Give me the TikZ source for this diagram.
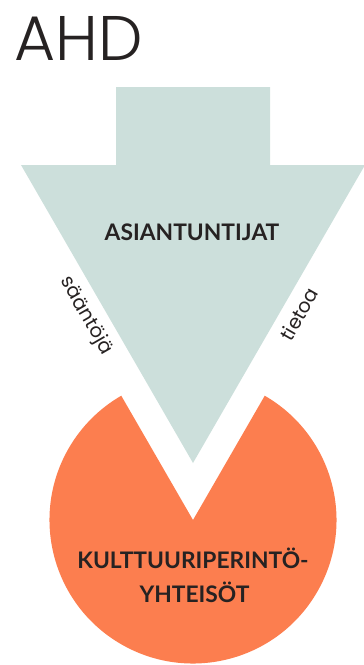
\documentclass[tikz,border=0pt]{standalone}
\usepackage{fontspec}
\IfFontExistsTF{Poppins Light}{\newfontfamily\thinfont{Poppins Light}}{\newfontfamily\thinfont{Poppins}}
\newfontfamily\sidefont{Poppins}
\newfontfamily\boldfont{Lato}[UprightFont=* Bold]
\definecolor{tealgray}{HTML}{CCDFDB}
\definecolor{coral}{HTML}{FC7E4F}
\definecolor{ink}{HTML}{262222}
\tikzset{
  biglabel/.style={font=\boldfont\fontsize{22.8}{34}\selectfont, text=ink, align=center, inner sep=0pt},
  sidelabel/.style={font=\sidefont\fontsize{19.5}{22}\selectfont, text=ink, inner sep=0pt},
}
\begin{document}
\begin{tikzpicture}[x=1pt,y=-1pt]
\useasboundingbox (0,0) rectangle (364,665);
% orange pie with wedge cut out
\fill[coral] (193,520) -- ++(300:143.5) arc[start angle=300, end angle=600, radius=143.5] -- cycle;
% arrow
\fill[tealgray] (116,87) -- (270,87) -- (270,165) -- (365,165) -- (193,463) -- (21,165) -- (116,165) -- cycle;
% texts
\node[anchor=base west, font=\thinfont\fontsize{63}{63}\selectfont, text=ink, inner sep=0pt] (ahd) at (14,60) {AHD};
\node[biglabel, anchor=base] (asi) at (192,240) {ASIANTUNTIJAT};
\node[biglabel, anchor=base] (kult) at (193,568) {KULTTUURIPERINTÖ-};
\node[biglabel, anchor=base] (yht) at (194.5,602) {YHTEISÖT};
\node[sidelabel, rotate=-60] (saan) at (86,316) {sääntöjä};
\node[sidelabel, rotate=60] (tiet) at (299,314) {tietoa};
\end{tikzpicture}
\end{document}
